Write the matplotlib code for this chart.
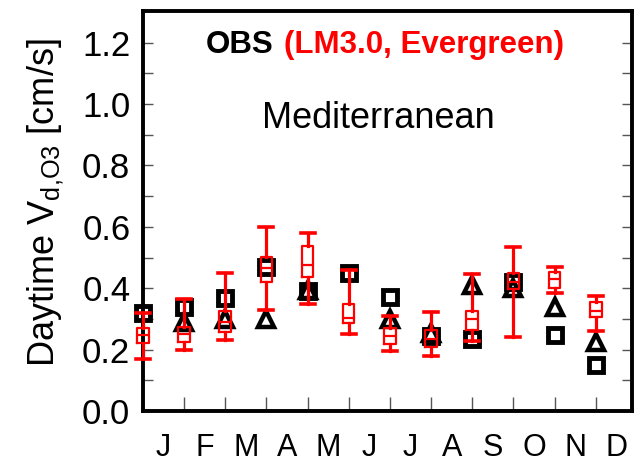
import numpy as np
import matplotlib
matplotlib.use("Agg")
import matplotlib.pyplot as plt
from matplotlib.offsetbox import TextArea, HPacker, AnchoredOffsetbox

plt.rcParams['font.family'] = ['Liberation Sans', 'DejaVu Sans']
plt.rcParams['mathtext.fontset'] = 'custom'
plt.rcParams['mathtext.rm'] = 'Liberation Sans'

# Monthly daytime O3 deposition velocity [cm/s]
months = ['J', 'F', 'M', 'A', 'M', 'J', 'J', 'A', 'S', 'O', 'N', 'D']
obs_square = [0.32, 0.34, 0.368, 0.47, 0.39, 0.45, 0.37, 0.245, 0.235, 0.42, 0.249, 0.15]
obs_triangle = [np.nan, 0.29, 0.30, 0.30, 0.395, np.nan, 0.30, 0.255, 0.41, 0.40, 0.34, 0.225]

# LM3.0 (Evergreen) box statistics per month
model_low = [0.168, 0.20, 0.231, 0.328, 0.35, 0.251, 0.196, 0.18, 0.228, 0.24, 0.383, 0.262]
model_q1 = [0.222, 0.225, 0.256, 0.421, 0.437, 0.288, 0.218, 0.207, 0.264, 0.398, 0.402, 0.305]
model_med = [0.248, 0.25, 0.29, 0.465, 0.475, 0.303, 0.243, 0.235, 0.30, 0.42, 0.43, 0.327]
model_q3 = [0.269, 0.274, 0.325, 0.503, 0.537, 0.347, 0.27, 0.265, 0.326, 0.448, 0.452, 0.355]
model_high = [0.32, 0.366, 0.45, 0.60, 0.58, 0.459, 0.308, 0.322, 0.446, 0.533, 0.468, 0.376]

yticks = [0.0, 0.2, 0.4, 0.6, 0.8, 1.0, 1.2]

fig = plt.figure(figsize=(6.41, 4.62), dpi=100)
ax = fig.add_axes([0.2228, 0.1104, 0.7632, 0.8658])

x = np.arange(len(months))

ax.plot(x, obs_square, linestyle='none', marker='s', markersize=9.5,
        markeredgewidth=3.5, markeredgecolor='black', markerfacecolor='none',
        zorder=2, clip_on=False)
ax.plot(x, obs_triangle, linestyle='none', marker='^', markersize=12,
        markeredgewidth=3.2, markeredgecolor='black', markerfacecolor='none',
        zorder=2.1, clip_on=False)

stats = [dict(med=m, q1=a, q3=b, whislo=lo, whishi=hi, fliers=[])
         for m, a, b, lo, hi in zip(model_med, model_q1, model_q3, model_low, model_high)]
red = '#ff0000'
ax.bxp(stats, positions=x, widths=0.28, capwidths=0.34, showfliers=False,
       manage_ticks=False,
       boxprops=dict(color=red, linewidth=1.6),
       medianprops=dict(color=red, linewidth=1.6),
       whiskerprops=dict(color=red, linewidth=2.3),
       capprops=dict(color=red, linewidth=2.6),
       zorder=3)
for art in ax.lines[2:]:
    art.set_clip_on(False)

ax.set_xlim(0, 11.88)
ax.set_ylim(0, 1.303)

ax.set_yticks(yticks)
ax.set_yticklabels([f'{v:.1f}' for v in yticks])
ax.set_yticks(np.arange(0.1, 1.3, 0.2), minor=True)
ax.tick_params(axis='y', which='both', direction='in', left=True, right=True,
               length=7, width=1.0, color='#555555', labelsize=25, pad=9)

ax.set_xticks(np.arange(1, 12))
ax.set_xticklabels([])
ax.set_xticks(x + 0.5, minor=True)
ax.set_xticklabels(months, minor=True)
ax.tick_params(axis='x', which='major', direction='in', bottom=True, top=False,
               length=10, width=1.0, color='#555555')
ax.tick_params(axis='x', which='minor', bottom=False, top=False,
               labelsize=22, pad=14)

for sp in ax.spines.values():
    sp.set_linewidth(2.8)
    sp.set_color('black')

ax.set_ylabel(r'Daytime V$_\mathregular{d{,}O3}$ [cm/s]', fontsize=26)
ax.yaxis.set_label_coords(-0.157, 0.52)

# Two-colour heading
ta_obs = TextArea('OBS', textprops=dict(color='black', fontsize=22.5, fontweight='bold'))
ta_mod = TextArea('(LM3.0, Evergreen)', textprops=dict(color=red, fontsize=22.5, fontweight='bold'))
head = HPacker(children=[ta_obs, ta_mod], align='baseline', pad=0, sep=8)
ax.add_artist(AnchoredOffsetbox(loc='center', child=head, pad=0, borderpad=0,
                                frameon=False, bbox_to_anchor=(0.495, 0.915),
                                bbox_transform=ax.transAxes))

ax.text(0.482, 0.922, 'Mediterranean', transform=ax.get_yaxis_transform(),
        ha='center', va='baseline', fontsize=26, color='black')

fig.savefig('out.png', dpi=100)
